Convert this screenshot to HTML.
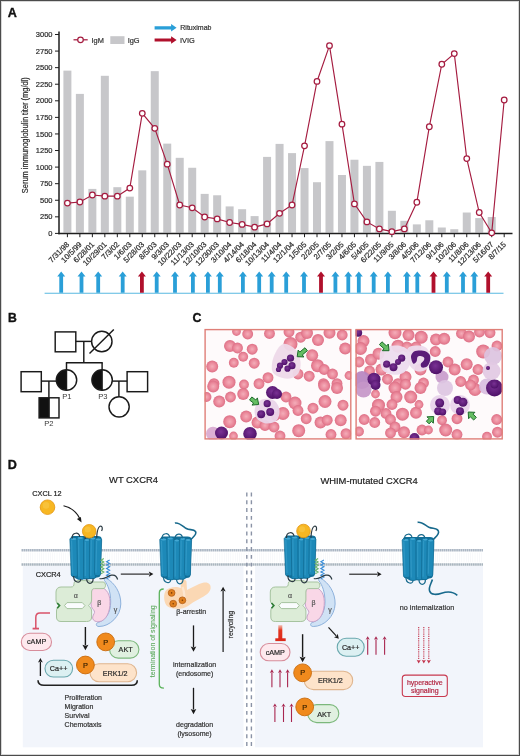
<!DOCTYPE html>
<html><head><meta charset="utf-8"><title>Figure</title>
<style>
html,body{margin:0;padding:0;background:#fff;}
body{width:520px;height:756px;overflow:hidden;position:relative;}
svg{position:absolute;left:0;top:0;display:block;}
svg text{font-family:"Liberation Sans", Arial, Helvetica, sans-serif;}
</style></head>
<body>
<svg width="520" height="756" viewBox="0 0 520 756">
<rect x="0" y="0" width="520" height="756" fill="#fff"/>
<text x="7.8" y="16.9" font-size="12.6" font-weight="bold" fill="#111" stroke="#111" stroke-width="0.35">A</text>
<rect x="63.40" y="70.63" width="8" height="161.97" fill="#c7c7ca"/>
<rect x="75.88" y="93.90" width="8" height="138.70" fill="#c7c7ca"/>
<rect x="88.36" y="188.91" width="8" height="43.69" fill="#c7c7ca"/>
<rect x="100.84" y="75.80" width="8" height="156.80" fill="#c7c7ca"/>
<rect x="113.32" y="187.19" width="8" height="45.41" fill="#c7c7ca"/>
<rect x="125.80" y="196.67" width="8" height="35.93" fill="#c7c7ca"/>
<rect x="138.28" y="170.35" width="8" height="62.25" fill="#c7c7ca"/>
<rect x="150.76" y="71.16" width="8" height="161.44" fill="#c7c7ca"/>
<rect x="163.24" y="143.63" width="8" height="88.97" fill="#c7c7ca"/>
<rect x="175.72" y="157.82" width="8" height="74.78" fill="#c7c7ca"/>
<rect x="188.20" y="167.76" width="8" height="64.84" fill="#c7c7ca"/>
<rect x="200.68" y="193.89" width="8" height="38.71" fill="#c7c7ca"/>
<rect x="213.16" y="195.28" width="8" height="37.32" fill="#c7c7ca"/>
<rect x="225.64" y="206.42" width="8" height="26.18" fill="#c7c7ca"/>
<rect x="238.12" y="209.20" width="8" height="23.40" fill="#c7c7ca"/>
<rect x="250.60" y="216.10" width="8" height="16.50" fill="#c7c7ca"/>
<rect x="263.08" y="156.89" width="8" height="75.71" fill="#c7c7ca"/>
<rect x="275.56" y="143.90" width="8" height="88.70" fill="#c7c7ca"/>
<rect x="288.04" y="153.11" width="8" height="79.49" fill="#c7c7ca"/>
<rect x="300.52" y="168.09" width="8" height="64.51" fill="#c7c7ca"/>
<rect x="313.00" y="182.22" width="8" height="50.38" fill="#c7c7ca"/>
<rect x="325.48" y="141.11" width="8" height="91.49" fill="#c7c7ca"/>
<rect x="337.96" y="174.99" width="8" height="57.61" fill="#c7c7ca"/>
<rect x="350.44" y="159.74" width="8" height="72.86" fill="#c7c7ca"/>
<rect x="362.92" y="165.84" width="8" height="66.76" fill="#c7c7ca"/>
<rect x="375.40" y="161.93" width="8" height="70.67" fill="#c7c7ca"/>
<rect x="387.88" y="210.79" width="8" height="21.81" fill="#c7c7ca"/>
<rect x="400.36" y="220.80" width="8" height="11.80" fill="#c7c7ca"/>
<rect x="412.84" y="224.38" width="8" height="8.22" fill="#c7c7ca"/>
<rect x="425.32" y="220.27" width="8" height="12.33" fill="#c7c7ca"/>
<rect x="437.80" y="227.50" width="8" height="5.10" fill="#c7c7ca"/>
<rect x="450.28" y="229.22" width="8" height="3.38" fill="#c7c7ca"/>
<rect x="462.76" y="212.52" width="8" height="20.08" fill="#c7c7ca"/>
<rect x="475.24" y="218.08" width="8" height="14.52" fill="#c7c7ca"/>
<rect x="487.72" y="217.02" width="8" height="15.58" fill="#c7c7ca"/>
<line x1="59.0" y1="31.5" x2="59.0" y2="234.15" stroke="#1e1e1e" stroke-width="1.5"/>
<line x1="58.25" y1="233.4" x2="512.5" y2="233.4" stroke="#1e1e1e" stroke-width="1.5"/>
<line x1="55.0" y1="233.40" x2="59.0" y2="233.40" stroke="#1e1e1e" stroke-width="1"/>
<text x="52.5" y="236.00" text-anchor="end" font-size="7.5" fill="#2a2a2a" stroke="#2a2a2a" stroke-width="0.2">0</text>
<line x1="55.0" y1="216.83" x2="59.0" y2="216.83" stroke="#1e1e1e" stroke-width="1"/>
<text x="52.5" y="219.43" text-anchor="end" font-size="7.5" fill="#2a2a2a" stroke="#2a2a2a" stroke-width="0.2">250</text>
<line x1="55.0" y1="200.25" x2="59.0" y2="200.25" stroke="#1e1e1e" stroke-width="1"/>
<text x="52.5" y="202.85" text-anchor="end" font-size="7.5" fill="#2a2a2a" stroke="#2a2a2a" stroke-width="0.2">500</text>
<line x1="55.0" y1="183.68" x2="59.0" y2="183.68" stroke="#1e1e1e" stroke-width="1"/>
<text x="52.5" y="186.28" text-anchor="end" font-size="7.5" fill="#2a2a2a" stroke="#2a2a2a" stroke-width="0.2">750</text>
<line x1="55.0" y1="167.10" x2="59.0" y2="167.10" stroke="#1e1e1e" stroke-width="1"/>
<text x="52.5" y="169.70" text-anchor="end" font-size="7.5" fill="#2a2a2a" stroke="#2a2a2a" stroke-width="0.2">1000</text>
<line x1="55.0" y1="150.53" x2="59.0" y2="150.53" stroke="#1e1e1e" stroke-width="1"/>
<text x="52.5" y="153.12" text-anchor="end" font-size="7.5" fill="#2a2a2a" stroke="#2a2a2a" stroke-width="0.2">1250</text>
<line x1="55.0" y1="133.95" x2="59.0" y2="133.95" stroke="#1e1e1e" stroke-width="1"/>
<text x="52.5" y="136.55" text-anchor="end" font-size="7.5" fill="#2a2a2a" stroke="#2a2a2a" stroke-width="0.2">1500</text>
<line x1="55.0" y1="117.38" x2="59.0" y2="117.38" stroke="#1e1e1e" stroke-width="1"/>
<text x="52.5" y="119.98" text-anchor="end" font-size="7.5" fill="#2a2a2a" stroke="#2a2a2a" stroke-width="0.2">1750</text>
<line x1="55.0" y1="100.80" x2="59.0" y2="100.80" stroke="#1e1e1e" stroke-width="1"/>
<text x="52.5" y="103.40" text-anchor="end" font-size="7.5" fill="#2a2a2a" stroke="#2a2a2a" stroke-width="0.2">2000</text>
<line x1="55.0" y1="84.23" x2="59.0" y2="84.23" stroke="#1e1e1e" stroke-width="1"/>
<text x="52.5" y="86.83" text-anchor="end" font-size="7.5" fill="#2a2a2a" stroke="#2a2a2a" stroke-width="0.2">2250</text>
<line x1="55.0" y1="67.65" x2="59.0" y2="67.65" stroke="#1e1e1e" stroke-width="1"/>
<text x="52.5" y="70.25" text-anchor="end" font-size="7.5" fill="#2a2a2a" stroke="#2a2a2a" stroke-width="0.2">2500</text>
<line x1="55.0" y1="51.08" x2="59.0" y2="51.08" stroke="#1e1e1e" stroke-width="1"/>
<text x="52.5" y="53.68" text-anchor="end" font-size="7.5" fill="#2a2a2a" stroke="#2a2a2a" stroke-width="0.2">2750</text>
<line x1="55.0" y1="34.50" x2="59.0" y2="34.50" stroke="#1e1e1e" stroke-width="1"/>
<text x="52.5" y="37.10" text-anchor="end" font-size="7.5" fill="#2a2a2a" stroke="#2a2a2a" stroke-width="0.2">3000</text>
<line x1="67.40" y1="233.4" x2="67.40" y2="237.20000000000002" stroke="#1e1e1e" stroke-width="1"/>
<text transform="translate(69.80,245.00) rotate(-45)" text-anchor="end" font-size="7.7" fill="#2a2a2a" stroke="#2a2a2a" stroke-width="0.2">7/31/98</text>
<line x1="79.88" y1="233.4" x2="79.88" y2="237.20000000000002" stroke="#1e1e1e" stroke-width="1"/>
<text transform="translate(82.28,245.00) rotate(-45)" text-anchor="end" font-size="7.7" fill="#2a2a2a" stroke="#2a2a2a" stroke-width="0.2">10/5/99</text>
<line x1="92.36" y1="233.4" x2="92.36" y2="237.20000000000002" stroke="#1e1e1e" stroke-width="1"/>
<text transform="translate(94.76,245.00) rotate(-45)" text-anchor="end" font-size="7.7" fill="#2a2a2a" stroke="#2a2a2a" stroke-width="0.2">6/28/01</text>
<line x1="104.84" y1="233.4" x2="104.84" y2="237.20000000000002" stroke="#1e1e1e" stroke-width="1"/>
<text transform="translate(107.24,245.00) rotate(-45)" text-anchor="end" font-size="7.7" fill="#2a2a2a" stroke="#2a2a2a" stroke-width="0.2">10/29/01</text>
<line x1="117.32" y1="233.4" x2="117.32" y2="237.20000000000002" stroke="#1e1e1e" stroke-width="1"/>
<text transform="translate(119.72,245.00) rotate(-45)" text-anchor="end" font-size="7.7" fill="#2a2a2a" stroke="#2a2a2a" stroke-width="0.2">7/3/02</text>
<line x1="129.80" y1="233.4" x2="129.80" y2="237.20000000000002" stroke="#1e1e1e" stroke-width="1"/>
<text transform="translate(132.20,245.00) rotate(-45)" text-anchor="end" font-size="7.7" fill="#2a2a2a" stroke="#2a2a2a" stroke-width="0.2">1/6/03</text>
<line x1="142.28" y1="233.4" x2="142.28" y2="237.20000000000002" stroke="#1e1e1e" stroke-width="1"/>
<text transform="translate(144.68,245.00) rotate(-45)" text-anchor="end" font-size="7.7" fill="#2a2a2a" stroke="#2a2a2a" stroke-width="0.2">5/28/03</text>
<line x1="154.76" y1="233.4" x2="154.76" y2="237.20000000000002" stroke="#1e1e1e" stroke-width="1"/>
<text transform="translate(157.16,245.00) rotate(-45)" text-anchor="end" font-size="7.7" fill="#2a2a2a" stroke="#2a2a2a" stroke-width="0.2">8/5/03</text>
<line x1="167.24" y1="233.4" x2="167.24" y2="237.20000000000002" stroke="#1e1e1e" stroke-width="1"/>
<text transform="translate(169.64,245.00) rotate(-45)" text-anchor="end" font-size="7.7" fill="#2a2a2a" stroke="#2a2a2a" stroke-width="0.2">9/3/03</text>
<line x1="179.72" y1="233.4" x2="179.72" y2="237.20000000000002" stroke="#1e1e1e" stroke-width="1"/>
<text transform="translate(182.12,245.00) rotate(-45)" text-anchor="end" font-size="7.7" fill="#2a2a2a" stroke="#2a2a2a" stroke-width="0.2">10/22/03</text>
<line x1="192.20" y1="233.4" x2="192.20" y2="237.20000000000002" stroke="#1e1e1e" stroke-width="1"/>
<text transform="translate(194.60,245.00) rotate(-45)" text-anchor="end" font-size="7.7" fill="#2a2a2a" stroke="#2a2a2a" stroke-width="0.2">11/13/03</text>
<line x1="204.68" y1="233.4" x2="204.68" y2="237.20000000000002" stroke="#1e1e1e" stroke-width="1"/>
<text transform="translate(207.08,245.00) rotate(-45)" text-anchor="end" font-size="7.7" fill="#2a2a2a" stroke="#2a2a2a" stroke-width="0.2">12/10/03</text>
<line x1="217.16" y1="233.4" x2="217.16" y2="237.20000000000002" stroke="#1e1e1e" stroke-width="1"/>
<text transform="translate(219.56,245.00) rotate(-45)" text-anchor="end" font-size="7.7" fill="#2a2a2a" stroke="#2a2a2a" stroke-width="0.2">12/30/03</text>
<line x1="229.64" y1="233.4" x2="229.64" y2="237.20000000000002" stroke="#1e1e1e" stroke-width="1"/>
<text transform="translate(232.04,245.00) rotate(-45)" text-anchor="end" font-size="7.7" fill="#2a2a2a" stroke="#2a2a2a" stroke-width="0.2">3/10/04</text>
<line x1="242.12" y1="233.4" x2="242.12" y2="237.20000000000002" stroke="#1e1e1e" stroke-width="1"/>
<text transform="translate(244.52,245.00) rotate(-45)" text-anchor="end" font-size="7.7" fill="#2a2a2a" stroke="#2a2a2a" stroke-width="0.2">4/14/04</text>
<line x1="254.60" y1="233.4" x2="254.60" y2="237.20000000000002" stroke="#1e1e1e" stroke-width="1"/>
<text transform="translate(257.00,245.00) rotate(-45)" text-anchor="end" font-size="7.7" fill="#2a2a2a" stroke="#2a2a2a" stroke-width="0.2">6/18/04</text>
<line x1="267.08" y1="233.4" x2="267.08" y2="237.20000000000002" stroke="#1e1e1e" stroke-width="1"/>
<text transform="translate(269.48,245.00) rotate(-45)" text-anchor="end" font-size="7.7" fill="#2a2a2a" stroke="#2a2a2a" stroke-width="0.2">10/13/04</text>
<line x1="279.56" y1="233.4" x2="279.56" y2="237.20000000000002" stroke="#1e1e1e" stroke-width="1"/>
<text transform="translate(281.96,245.00) rotate(-45)" text-anchor="end" font-size="7.7" fill="#2a2a2a" stroke="#2a2a2a" stroke-width="0.2">11/4/04</text>
<line x1="292.04" y1="233.4" x2="292.04" y2="237.20000000000002" stroke="#1e1e1e" stroke-width="1"/>
<text transform="translate(294.44,245.00) rotate(-45)" text-anchor="end" font-size="7.7" fill="#2a2a2a" stroke="#2a2a2a" stroke-width="0.2">12/1/04</text>
<line x1="304.52" y1="233.4" x2="304.52" y2="237.20000000000002" stroke="#1e1e1e" stroke-width="1"/>
<text transform="translate(306.92,245.00) rotate(-45)" text-anchor="end" font-size="7.7" fill="#2a2a2a" stroke="#2a2a2a" stroke-width="0.2">1/5/05</text>
<line x1="317.00" y1="233.4" x2="317.00" y2="237.20000000000002" stroke="#1e1e1e" stroke-width="1"/>
<text transform="translate(319.40,245.00) rotate(-45)" text-anchor="end" font-size="7.7" fill="#2a2a2a" stroke="#2a2a2a" stroke-width="0.2">2/2/05</text>
<line x1="329.48" y1="233.4" x2="329.48" y2="237.20000000000002" stroke="#1e1e1e" stroke-width="1"/>
<text transform="translate(331.88,245.00) rotate(-45)" text-anchor="end" font-size="7.7" fill="#2a2a2a" stroke="#2a2a2a" stroke-width="0.2">2/7/05</text>
<line x1="341.96" y1="233.4" x2="341.96" y2="237.20000000000002" stroke="#1e1e1e" stroke-width="1"/>
<text transform="translate(344.36,245.00) rotate(-45)" text-anchor="end" font-size="7.7" fill="#2a2a2a" stroke="#2a2a2a" stroke-width="0.2">3/2/05</text>
<line x1="354.44" y1="233.4" x2="354.44" y2="237.20000000000002" stroke="#1e1e1e" stroke-width="1"/>
<text transform="translate(356.84,245.00) rotate(-45)" text-anchor="end" font-size="7.7" fill="#2a2a2a" stroke="#2a2a2a" stroke-width="0.2">4/6/05</text>
<line x1="366.92" y1="233.4" x2="366.92" y2="237.20000000000002" stroke="#1e1e1e" stroke-width="1"/>
<text transform="translate(369.32,245.00) rotate(-45)" text-anchor="end" font-size="7.7" fill="#2a2a2a" stroke="#2a2a2a" stroke-width="0.2">5/4/05</text>
<line x1="379.40" y1="233.4" x2="379.40" y2="237.20000000000002" stroke="#1e1e1e" stroke-width="1"/>
<text transform="translate(381.80,245.00) rotate(-45)" text-anchor="end" font-size="7.7" fill="#2a2a2a" stroke="#2a2a2a" stroke-width="0.2">6/22/05</text>
<line x1="391.88" y1="233.4" x2="391.88" y2="237.20000000000002" stroke="#1e1e1e" stroke-width="1"/>
<text transform="translate(394.28,245.00) rotate(-45)" text-anchor="end" font-size="7.7" fill="#2a2a2a" stroke="#2a2a2a" stroke-width="0.2">11/9/05</text>
<line x1="404.36" y1="233.4" x2="404.36" y2="237.20000000000002" stroke="#1e1e1e" stroke-width="1"/>
<text transform="translate(406.76,245.00) rotate(-45)" text-anchor="end" font-size="7.7" fill="#2a2a2a" stroke="#2a2a2a" stroke-width="0.2">3/8/06</text>
<line x1="416.84" y1="233.4" x2="416.84" y2="237.20000000000002" stroke="#1e1e1e" stroke-width="1"/>
<text transform="translate(419.24,245.00) rotate(-45)" text-anchor="end" font-size="7.7" fill="#2a2a2a" stroke="#2a2a2a" stroke-width="0.2">4/5/06</text>
<line x1="429.32" y1="233.4" x2="429.32" y2="237.20000000000002" stroke="#1e1e1e" stroke-width="1"/>
<text transform="translate(431.72,245.00) rotate(-45)" text-anchor="end" font-size="7.7" fill="#2a2a2a" stroke="#2a2a2a" stroke-width="0.2">7/12/06</text>
<line x1="441.80" y1="233.4" x2="441.80" y2="237.20000000000002" stroke="#1e1e1e" stroke-width="1"/>
<text transform="translate(444.20,245.00) rotate(-45)" text-anchor="end" font-size="7.7" fill="#2a2a2a" stroke="#2a2a2a" stroke-width="0.2">9/1/06</text>
<line x1="454.28" y1="233.4" x2="454.28" y2="237.20000000000002" stroke="#1e1e1e" stroke-width="1"/>
<text transform="translate(456.68,245.00) rotate(-45)" text-anchor="end" font-size="7.7" fill="#2a2a2a" stroke="#2a2a2a" stroke-width="0.2">10/2/06</text>
<line x1="466.76" y1="233.4" x2="466.76" y2="237.20000000000002" stroke="#1e1e1e" stroke-width="1"/>
<text transform="translate(469.16,245.00) rotate(-45)" text-anchor="end" font-size="7.7" fill="#2a2a2a" stroke="#2a2a2a" stroke-width="0.2">11/8/06</text>
<line x1="479.24" y1="233.4" x2="479.24" y2="237.20000000000002" stroke="#1e1e1e" stroke-width="1"/>
<text transform="translate(481.64,245.00) rotate(-45)" text-anchor="end" font-size="7.7" fill="#2a2a2a" stroke="#2a2a2a" stroke-width="0.2">12/13/06</text>
<line x1="491.72" y1="233.4" x2="491.72" y2="237.20000000000002" stroke="#1e1e1e" stroke-width="1"/>
<text transform="translate(494.12,245.00) rotate(-45)" text-anchor="end" font-size="7.7" fill="#2a2a2a" stroke="#2a2a2a" stroke-width="0.2">5/16/07</text>
<line x1="504.20" y1="233.4" x2="504.20" y2="237.20000000000002" stroke="#1e1e1e" stroke-width="1"/>
<text transform="translate(506.60,245.00) rotate(-45)" text-anchor="end" font-size="7.7" fill="#2a2a2a" stroke="#2a2a2a" stroke-width="0.2">8/7/15</text>
<polyline points="67.40,203.10 79.88,202.04 92.36,195.01 104.84,196.14 117.32,196.14 129.80,188.05 142.28,113.33 154.76,128.31 167.24,164.18 179.72,205.02 192.20,207.81 204.68,217.02 217.16,218.88 229.64,222.53 242.12,224.38 254.60,227.17 267.08,223.92 279.56,213.31 292.04,205.02 304.52,145.82 317.00,81.44 329.48,45.64 341.96,124.20 354.44,203.90 366.92,221.93 379.40,228.89 391.88,231.68 404.36,228.89 416.84,202.24 429.32,126.72 441.80,64.20 454.28,53.59 466.76,158.61 479.24,212.52 491.72,232.80 504.20,100.00" fill="none" stroke="#a51c40" stroke-width="1.15"/>
<circle cx="67.40" cy="203.10" r="2.8" fill="#fff" stroke="#a51c40" stroke-width="1.25"/>
<circle cx="79.88" cy="202.04" r="2.8" fill="#fff" stroke="#a51c40" stroke-width="1.25"/>
<circle cx="92.36" cy="195.01" r="2.8" fill="#fff" stroke="#a51c40" stroke-width="1.25"/>
<circle cx="104.84" cy="196.14" r="2.8" fill="#fff" stroke="#a51c40" stroke-width="1.25"/>
<circle cx="117.32" cy="196.14" r="2.8" fill="#fff" stroke="#a51c40" stroke-width="1.25"/>
<circle cx="129.80" cy="188.05" r="2.8" fill="#fff" stroke="#a51c40" stroke-width="1.25"/>
<circle cx="142.28" cy="113.33" r="2.8" fill="#fff" stroke="#a51c40" stroke-width="1.25"/>
<circle cx="154.76" cy="128.31" r="2.8" fill="#fff" stroke="#a51c40" stroke-width="1.25"/>
<circle cx="167.24" cy="164.18" r="2.8" fill="#fff" stroke="#a51c40" stroke-width="1.25"/>
<circle cx="179.72" cy="205.02" r="2.8" fill="#fff" stroke="#a51c40" stroke-width="1.25"/>
<circle cx="192.20" cy="207.81" r="2.8" fill="#fff" stroke="#a51c40" stroke-width="1.25"/>
<circle cx="204.68" cy="217.02" r="2.8" fill="#fff" stroke="#a51c40" stroke-width="1.25"/>
<circle cx="217.16" cy="218.88" r="2.8" fill="#fff" stroke="#a51c40" stroke-width="1.25"/>
<circle cx="229.64" cy="222.53" r="2.8" fill="#fff" stroke="#a51c40" stroke-width="1.25"/>
<circle cx="242.12" cy="224.38" r="2.8" fill="#fff" stroke="#a51c40" stroke-width="1.25"/>
<circle cx="254.60" cy="227.17" r="2.8" fill="#fff" stroke="#a51c40" stroke-width="1.25"/>
<circle cx="267.08" cy="223.92" r="2.8" fill="#fff" stroke="#a51c40" stroke-width="1.25"/>
<circle cx="279.56" cy="213.31" r="2.8" fill="#fff" stroke="#a51c40" stroke-width="1.25"/>
<circle cx="292.04" cy="205.02" r="2.8" fill="#fff" stroke="#a51c40" stroke-width="1.25"/>
<circle cx="304.52" cy="145.82" r="2.8" fill="#fff" stroke="#a51c40" stroke-width="1.25"/>
<circle cx="317.00" cy="81.44" r="2.8" fill="#fff" stroke="#a51c40" stroke-width="1.25"/>
<circle cx="329.48" cy="45.64" r="2.8" fill="#fff" stroke="#a51c40" stroke-width="1.25"/>
<circle cx="341.96" cy="124.20" r="2.8" fill="#fff" stroke="#a51c40" stroke-width="1.25"/>
<circle cx="354.44" cy="203.90" r="2.8" fill="#fff" stroke="#a51c40" stroke-width="1.25"/>
<circle cx="366.92" cy="221.93" r="2.8" fill="#fff" stroke="#a51c40" stroke-width="1.25"/>
<circle cx="379.40" cy="228.89" r="2.8" fill="#fff" stroke="#a51c40" stroke-width="1.25"/>
<circle cx="391.88" cy="231.68" r="2.8" fill="#fff" stroke="#a51c40" stroke-width="1.25"/>
<circle cx="404.36" cy="228.89" r="2.8" fill="#fff" stroke="#a51c40" stroke-width="1.25"/>
<circle cx="416.84" cy="202.24" r="2.8" fill="#fff" stroke="#a51c40" stroke-width="1.25"/>
<circle cx="429.32" cy="126.72" r="2.8" fill="#fff" stroke="#a51c40" stroke-width="1.25"/>
<circle cx="441.80" cy="64.20" r="2.8" fill="#fff" stroke="#a51c40" stroke-width="1.25"/>
<circle cx="454.28" cy="53.59" r="2.8" fill="#fff" stroke="#a51c40" stroke-width="1.25"/>
<circle cx="466.76" cy="158.61" r="2.8" fill="#fff" stroke="#a51c40" stroke-width="1.25"/>
<circle cx="479.24" cy="212.52" r="2.8" fill="#fff" stroke="#a51c40" stroke-width="1.25"/>
<circle cx="491.72" cy="232.80" r="2.8" fill="#fff" stroke="#a51c40" stroke-width="1.25"/>
<circle cx="504.20" cy="100.00" r="2.8" fill="#fff" stroke="#a51c40" stroke-width="1.25"/>
<text transform="translate(28.0,135.2) rotate(-90)" text-anchor="middle" font-size="8.4" fill="#2a2a2a" textLength="116" lengthAdjust="spacingAndGlyphs" stroke="#2a2a2a" stroke-width="0.2">Serum immunoglobulin titer (mg/dl)</text>
<line x1="73.5" y1="39.8" x2="87.7" y2="39.8" stroke="#a51c40" stroke-width="1.25"/>
<circle cx="80.5" cy="39.8" r="2.8" fill="#fff" stroke="#a51c40" stroke-width="1.25"/>
<text x="91.5" y="42.6" font-size="7.4" fill="#333" stroke="#333" stroke-width="0.2">IgM</text>
<rect x="110.3" y="36.2" width="14.2" height="7.8" fill="#c7c7ca"/>
<text x="127.7" y="42.6" font-size="7.4" fill="#333" stroke="#333" stroke-width="0.2">IgG</text>
<path d="M154.6,26.2 L171.1,26.2 L171.1,24.1 L176.6,27.8 L171.1,31.5 L171.1,29.400000000000002 L154.6,29.400000000000002 Z" fill="#2a9fd8"/>
<text x="180.3" y="30.1" font-size="7.0" fill="#333" stroke="#333" stroke-width="0.2">Rituximab</text>
<path d="M154.6,38.4 L171.1,38.4 L171.1,36.3 L176.6,40.0 L171.1,43.7 L171.1,41.6 L154.6,41.6 Z" fill="#b0102c"/>
<text x="180" y="42.6" font-size="7.4" fill="#333" stroke="#333" stroke-width="0.2">IVIG</text>
<line x1="44.6" y1="293.3" x2="503.5" y2="293.3" stroke="#58b8e0" stroke-width="1.1"/>
<path d="M59.300000000000004,292.8 L59.300000000000004,276.4 L57.2,276.4 L61.2,271.4 L65.2,276.4 L63.1,276.4 L63.1,292.8 Z" fill="#2a9fd8"/>
<path d="M79.6,292.8 L79.6,276.4 L77.5,276.4 L81.5,271.4 L85.5,276.4 L83.4,276.4 L83.4,292.8 Z" fill="#2a9fd8"/>
<path d="M96.3,292.8 L96.3,276.4 L94.2,276.4 L98.2,271.4 L102.2,276.4 L100.10000000000001,276.4 L100.10000000000001,292.8 Z" fill="#2a9fd8"/>
<path d="M120.8,292.8 L120.8,276.4 L118.7,276.4 L122.7,271.4 L126.7,276.4 L124.60000000000001,276.4 L124.60000000000001,292.8 Z" fill="#2a9fd8"/>
<path d="M140.0,292.8 L140.0,276.4 L137.9,276.4 L141.9,271.4 L145.9,276.4 L143.8,276.4 L143.8,292.8 Z" fill="#b0102c"/>
<path d="M154.79999999999998,292.8 L154.79999999999998,276.4 L152.7,276.4 L156.7,271.4 L160.7,276.4 L158.6,276.4 L158.6,292.8 Z" fill="#2a9fd8"/>
<path d="M173.1,292.8 L173.1,276.4 L171.0,276.4 L175.0,271.4 L179.0,276.4 L176.9,276.4 L176.9,292.8 Z" fill="#2a9fd8"/>
<path d="M191.0,292.8 L191.0,276.4 L188.9,276.4 L192.9,271.4 L196.9,276.4 L194.8,276.4 L194.8,292.8 Z" fill="#2a9fd8"/>
<path d="M206.0,292.8 L206.0,276.4 L203.9,276.4 L207.9,271.4 L211.9,276.4 L209.8,276.4 L209.8,292.8 Z" fill="#2a9fd8"/>
<path d="M217.9,292.8 L217.9,276.4 L215.8,276.4 L219.8,271.4 L223.8,276.4 L221.70000000000002,276.4 L221.70000000000002,292.8 Z" fill="#2a9fd8"/>
<path d="M241.0,292.8 L241.0,276.4 L238.9,276.4 L242.9,271.4 L246.9,276.4 L244.8,276.4 L244.8,292.8 Z" fill="#2a9fd8"/>
<path d="M257.3,292.8 L257.3,276.4 L255.2,276.4 L259.2,271.4 L263.2,276.4 L261.09999999999997,276.4 L261.09999999999997,292.8 Z" fill="#2a9fd8"/>
<path d="M269.8,292.8 L269.8,276.4 L267.7,276.4 L271.7,271.4 L275.7,276.4 L273.59999999999997,276.4 L273.59999999999997,292.8 Z" fill="#2a9fd8"/>
<path d="M284.3,292.8 L284.3,276.4 L282.2,276.4 L286.2,271.4 L290.2,276.4 L288.09999999999997,276.4 L288.09999999999997,292.8 Z" fill="#2a9fd8"/>
<path d="M302.1,292.8 L302.1,276.4 L300.0,276.4 L304.0,271.4 L308.0,276.4 L305.9,276.4 L305.9,292.8 Z" fill="#2a9fd8"/>
<path d="M319.1,292.8 L319.1,276.4 L317.0,276.4 L321.0,271.4 L325.0,276.4 L322.9,276.4 L322.9,292.8 Z" fill="#b0102c"/>
<path d="M333.5,292.8 L333.5,276.4 L331.4,276.4 L335.4,271.4 L339.4,276.4 L337.29999999999995,276.4 L337.29999999999995,292.8 Z" fill="#2a9fd8"/>
<path d="M346.40000000000003,292.8 L346.40000000000003,276.4 L344.3,276.4 L348.3,271.4 L352.3,276.4 L350.2,276.4 L350.2,292.8 Z" fill="#2a9fd8"/>
<path d="M356.90000000000003,292.8 L356.90000000000003,276.4 L354.8,276.4 L358.8,271.4 L362.8,276.4 L360.7,276.4 L360.7,292.8 Z" fill="#2a9fd8"/>
<path d="M371.8,292.8 L371.8,276.4 L369.7,276.4 L373.7,271.4 L377.7,276.4 L375.59999999999997,276.4 L375.59999999999997,292.8 Z" fill="#2a9fd8"/>
<path d="M386.0,292.8 L386.0,276.4 L383.9,276.4 L387.9,271.4 L391.9,276.4 L389.79999999999995,276.4 L389.79999999999995,292.8 Z" fill="#2a9fd8"/>
<path d="M405.0,292.8 L405.0,276.4 L402.9,276.4 L406.9,271.4 L410.9,276.4 L408.79999999999995,276.4 L408.79999999999995,292.8 Z" fill="#2a9fd8"/>
<path d="M415.40000000000003,292.8 L415.40000000000003,276.4 L413.3,276.4 L417.3,271.4 L421.3,276.4 L419.2,276.4 L419.2,292.8 Z" fill="#2a9fd8"/>
<path d="M431.6,292.8 L431.6,276.4 L429.5,276.4 L433.5,271.4 L437.5,276.4 L435.4,276.4 L435.4,292.8 Z" fill="#b0102c"/>
<path d="M444.90000000000003,292.8 L444.90000000000003,276.4 L442.8,276.4 L446.8,271.4 L450.8,276.4 L448.7,276.4 L448.7,292.8 Z" fill="#2a9fd8"/>
<path d="M461.1,292.8 L461.1,276.4 L459.0,276.4 L463.0,271.4 L467.0,276.4 L464.9,276.4 L464.9,292.8 Z" fill="#2a9fd8"/>
<path d="M472.40000000000003,292.8 L472.40000000000003,276.4 L470.3,276.4 L474.3,271.4 L478.3,276.4 L476.2,276.4 L476.2,292.8 Z" fill="#2a9fd8"/>
<path d="M486.3,292.8 L486.3,276.4 L484.2,276.4 L488.2,271.4 L492.2,276.4 L490.09999999999997,276.4 L490.09999999999997,292.8 Z" fill="#b0102c"/>
<g id="panelB">
<text x="8" y="322.3" font-size="12.2" font-weight="bold" fill="#111" stroke="#111" stroke-width="0.35">B</text>
<g fill="none" stroke="#1a1a1a" stroke-width="1.45">
<rect x="55.2" y="331.9" width="20.6" height="19.9" fill="#fff"/>
<line x1="75.9" y1="341.4" x2="91.4" y2="341.4"/>
<circle cx="101.8" cy="341.5" r="10.2" fill="#fff"/>
<line x1="89.5" y1="353.5" x2="113.8" y2="329.5"/>
<line x1="83.8" y1="341.4" x2="83.8" y2="362.8"/>
<line x1="65.85" y1="362.8" x2="102.75" y2="362.8"/>
<line x1="66.5" y1="362.8" x2="66.5" y2="369.8"/>
<line x1="102.1" y1="362.8" x2="102.1" y2="369.8"/>
<rect x="21.1" y="371.7" width="20.2" height="20" fill="#fff"/>
<line x1="41.3" y1="381.1" x2="56.3" y2="381.1"/>
<line x1="48.9" y1="381.1" x2="48.9" y2="397.6"/>
<rect x="127.1" y="371.7" width="20.5" height="20" fill="#fff"/>
<line x1="112.3" y1="381.1" x2="127.1" y2="381.1"/>
<line x1="118.9" y1="381.1" x2="118.9" y2="396.6"/>
<circle cx="119.1" cy="406.8" r="10.1" fill="#fff"/>
</g>
<path d="M66.5,369.8 A10.2,10.2 0 0 0 66.5,390.2 Z" fill="#111"/>
<circle cx="66.5" cy="380" r="10.2" fill="none" stroke="#1a1a1a" stroke-width="1.45"/>
<line x1="66.5" y1="369.8" x2="66.5" y2="390.2" stroke="#1a1a1a" stroke-width="1.45"/>
<path d="M102.1,369.8 A10.2,10.2 0 0 0 102.1,390.2 Z" fill="#111"/>
<circle cx="102.1" cy="380" r="10.2" fill="none" stroke="#1a1a1a" stroke-width="1.45"/>
<line x1="102.1" y1="369.8" x2="102.1" y2="390.2" stroke="#1a1a1a" stroke-width="1.45"/>
<rect x="39.1" y="397.8" width="10" height="20.1" fill="#111"/>
<rect x="39.1" y="397.8" width="19.9" height="20.1" fill="none" stroke="#1a1a1a" stroke-width="1.45"/>
<line x1="49.1" y1="397.8" x2="49.1" y2="417.9" stroke="#1a1a1a" stroke-width="1.45"/>
<g font-size="7.6" fill="#3a3a3a" text-anchor="middle">
<text x="66.8" y="398.6">P1</text>
<text x="102.8" y="398.6">P3</text>
<text x="48.8" y="425.9">P2</text>
</g>
</g>

<g id="panelC">
<text x="192.4" y="322.3" font-size="12.4" font-weight="bold" fill="#111" stroke="#111" stroke-width="0.35">C</text>
<defs>
<radialGradient id="rbc" cx="50%" cy="50%" r="50%">
<stop offset="0" stop-color="#f4adb9"/><stop offset="0.6" stop-color="#eb8a9c"/><stop offset="1" stop-color="#dd7086"/>
</radialGradient>
<radialGradient id="nuc" cx="45%" cy="40%" r="60%">
<stop offset="0" stop-color="#7a3294"/><stop offset="1" stop-color="#4e1168"/>
</radialGradient>
<clipPath id="clipL"><rect x="204.6" y="329.1" width="146.7" height="110.3"/></clipPath>
<clipPath id="clipR"><rect x="355.6" y="329.1" width="147.1" height="110.3"/></clipPath>
</defs>
<g clip-path="url(#clipL)">
<rect x="204.6" y="329.1" width="146.7" height="110.3" fill="#fefafb"/>
<circle cx="230" cy="346" r="5.98" fill="url(#rbc)"/>
<circle cx="237.5" cy="348" r="5.45" fill="url(#rbc)"/>
<circle cx="252.2" cy="349.2" r="5.45" fill="url(#rbc)"/>
<circle cx="243.2" cy="356.7" r="4.93" fill="url(#rbc)"/>
<circle cx="233.8" cy="362.7" r="4.93" fill="url(#rbc)"/>
<circle cx="254.2" cy="363.2" r="5.45" fill="url(#rbc)"/>
<circle cx="212.2" cy="366.5" r="5.98" fill="url(#rbc)"/>
<circle cx="247.7" cy="334" r="5.45" fill="url(#rbc)"/>
<circle cx="269.5" cy="333.5" r="5.45" fill="url(#rbc)"/>
<circle cx="236.5" cy="331.5" r="4.40" fill="url(#rbc)"/>
<circle cx="229" cy="382.2" r="6.50" fill="url(#rbc)"/>
<circle cx="214" cy="383.7" r="5.45" fill="url(#rbc)"/>
<circle cx="244" cy="384.5" r="4.93" fill="url(#rbc)"/>
<circle cx="259" cy="383.7" r="5.45" fill="url(#rbc)"/>
<circle cx="268" cy="377.7" r="5.45" fill="url(#rbc)"/>
<circle cx="289" cy="332" r="5.45" fill="url(#rbc)"/>
<circle cx="300.7" cy="337.2" r="5.45" fill="url(#rbc)"/>
<circle cx="307" cy="333" r="5.98" fill="url(#rbc)"/>
<circle cx="318" cy="340" r="5.98" fill="url(#rbc)"/>
<circle cx="329.5" cy="332.8" r="5.98" fill="url(#rbc)"/>
<circle cx="342.2" cy="335" r="5.45" fill="url(#rbc)"/>
<circle cx="290.5" cy="344" r="7.03" fill="url(#rbc)"/>
<circle cx="345.2" cy="348.5" r="5.98" fill="url(#rbc)"/>
<circle cx="312.2" cy="355.2" r="5.98" fill="url(#rbc)"/>
<circle cx="317.5" cy="365.7" r="6.50" fill="url(#rbc)"/>
<circle cx="324.2" cy="369.5" r="5.45" fill="url(#rbc)"/>
<circle cx="332.5" cy="374" r="5.45" fill="url(#rbc)"/>
<circle cx="309.2" cy="376.2" r="5.45" fill="url(#rbc)"/>
<circle cx="349" cy="375.5" r="4.40" fill="url(#rbc)"/>
<circle cx="323.5" cy="383.7" r="5.45" fill="url(#rbc)"/>
<circle cx="337" cy="383.7" r="5.45" fill="url(#rbc)"/>
<circle cx="298" cy="374" r="5.45" fill="url(#rbc)"/>
<circle cx="213.2" cy="386.5" r="5.98" fill="url(#rbc)"/>
<circle cx="243.2" cy="394" r="5.98" fill="url(#rbc)"/>
<circle cx="230.5" cy="397" r="5.45" fill="url(#rbc)"/>
<circle cx="219.2" cy="401.5" r="5.98" fill="url(#rbc)"/>
<circle cx="206.5" cy="397" r="4.93" fill="url(#rbc)"/>
<circle cx="229.7" cy="421.7" r="6.50" fill="url(#rbc)"/>
<circle cx="246.2" cy="416.5" r="5.98" fill="url(#rbc)"/>
<circle cx="257.5" cy="422.5" r="5.98" fill="url(#rbc)"/>
<circle cx="265" cy="425.5" r="5.45" fill="url(#rbc)"/>
<circle cx="274" cy="427" r="5.45" fill="url(#rbc)"/>
<circle cx="233.5" cy="436" r="4.40" fill="url(#rbc)"/>
<circle cx="275.5" cy="416.5" r="4.40" fill="url(#rbc)"/>
<circle cx="324.2" cy="385.7" r="5.98" fill="url(#rbc)"/>
<circle cx="337" cy="388" r="5.98" fill="url(#rbc)"/>
<circle cx="286" cy="397" r="5.45" fill="url(#rbc)"/>
<circle cx="295" cy="403" r="6.50" fill="url(#rbc)"/>
<circle cx="298" cy="410.5" r="5.45" fill="url(#rbc)"/>
<circle cx="325" cy="401.5" r="6.50" fill="url(#rbc)"/>
<circle cx="343" cy="405.2" r="5.45" fill="url(#rbc)"/>
<circle cx="313" cy="408.2" r="5.45" fill="url(#rbc)"/>
<circle cx="283" cy="413.5" r="6.50" fill="url(#rbc)"/>
<circle cx="306.2" cy="418.7" r="5.45" fill="url(#rbc)"/>
<circle cx="320.5" cy="422.5" r="5.98" fill="url(#rbc)"/>
<circle cx="327.2" cy="420.2" r="5.45" fill="url(#rbc)"/>
<circle cx="340.7" cy="420.2" r="5.98" fill="url(#rbc)"/>
<circle cx="298.7" cy="430.7" r="6.50" fill="url(#rbc)"/>
<circle cx="280" cy="436" r="5.45" fill="url(#rbc)"/>
<circle cx="331" cy="434.5" r="5.45" fill="url(#rbc)"/>
<circle cx="346" cy="433.7" r="5.45" fill="url(#rbc)"/>
<path d="M283.00,344.00 C286.67,343.00 293.08,347.00 296.00,350.00 C298.92,353.00 300.08,358.17 300.50,362.00 C300.92,365.83 300.25,370.25 298.50,373.00 C296.75,375.75 293.42,377.92 290.00,378.50 C286.58,379.08 281.00,377.92 278.00,376.50 C275.00,375.08 272.67,373.42 272.00,370.00 C271.33,366.58 272.17,360.33 274.00,356.00 C275.83,351.67 279.33,345.00 283.00,344.00 Z" fill="#eed9e9" opacity="0.95"/>
<path d="M262.00,399.50 C265.17,398.25 271.08,398.75 274.00,400.50 C276.92,402.25 279.08,406.67 279.50,410.00 C279.92,413.33 278.75,418.25 276.50,420.50 C274.25,422.75 269.33,423.92 266.00,423.50 C262.67,423.08 258.33,420.58 256.50,418.00 C254.67,415.42 254.08,411.08 255.00,408.00 C255.92,404.92 258.83,400.75 262.00,399.50 Z" fill="#ead5e9" opacity="0.95"/>
<circle cx="213" cy="433.7" r="7" fill="#d9a8cf" opacity="0.92"/>
<circle cx="290.5" cy="358.2" r="3.6" fill="url(#nuc)"/>
<circle cx="284.5" cy="362" r="3.1" fill="url(#nuc)"/>
<circle cx="292" cy="365.7" r="3.6" fill="url(#nuc)"/>
<circle cx="287.5" cy="368.7" r="3.1" fill="url(#nuc)"/>
<circle cx="280" cy="365.7" r="3.1" fill="url(#nuc)"/>
<circle cx="278.5" cy="369.5" r="2.6" fill="url(#nuc)"/>
<circle cx="267.2" cy="403.7" r="3.6" fill="url(#nuc)"/>
<circle cx="270.2" cy="412" r="4.0" fill="url(#nuc)"/>
<circle cx="261.2" cy="414.2" r="4.0" fill="url(#nuc)"/>
<circle cx="272.5" cy="392.5" r="6.5" fill="url(#nuc)"/>
<circle cx="277" cy="394" r="5" fill="url(#nuc)"/>
<circle cx="221.5" cy="433" r="6.5" fill="url(#nuc)"/>
<circle cx="250" cy="433.7" r="6.8" fill="url(#nuc)"/>
</g>
<g clip-path="url(#clipR)">
<rect x="355.6" y="329.1" width="147.1" height="110.3" fill="#fefafb"/>
<circle cx="363.5" cy="341" r="5.98" fill="url(#rbc)"/>
<circle cx="360.5" cy="348.5" r="6.50" fill="url(#rbc)"/>
<circle cx="359" cy="362" r="5.45" fill="url(#rbc)"/>
<circle cx="371" cy="359.7" r="5.98" fill="url(#rbc)"/>
<circle cx="378.5" cy="353.7" r="5.98" fill="url(#rbc)"/>
<circle cx="395" cy="332.7" r="6.50" fill="url(#rbc)"/>
<circle cx="408.5" cy="335" r="5.98" fill="url(#rbc)"/>
<circle cx="421.2" cy="337.2" r="6.50" fill="url(#rbc)"/>
<circle cx="398" cy="346.2" r="6.50" fill="url(#rbc)"/>
<circle cx="407" cy="347" r="5.45" fill="url(#rbc)"/>
<circle cx="416" cy="347" r="5.45" fill="url(#rbc)"/>
<circle cx="381.5" cy="369.5" r="5.98" fill="url(#rbc)"/>
<circle cx="369.5" cy="371" r="5.45" fill="url(#rbc)"/>
<circle cx="387.5" cy="379.2" r="5.45" fill="url(#rbc)"/>
<circle cx="405.5" cy="377" r="5.98" fill="url(#rbc)"/>
<circle cx="420.5" cy="369.5" r="5.98" fill="url(#rbc)"/>
<circle cx="398" cy="383.7" r="5.45" fill="url(#rbc)"/>
<circle cx="423.5" cy="383" r="5.45" fill="url(#rbc)"/>
<circle cx="436" cy="339.5" r="5.98" fill="url(#rbc)"/>
<circle cx="444.2" cy="338.7" r="5.98" fill="url(#rbc)"/>
<circle cx="461.5" cy="333.5" r="5.45" fill="url(#rbc)"/>
<circle cx="469" cy="336.5" r="5.98" fill="url(#rbc)"/>
<circle cx="479.5" cy="332" r="5.45" fill="url(#rbc)"/>
<circle cx="490" cy="332.7" r="5.45" fill="url(#rbc)"/>
<circle cx="435.2" cy="351.5" r="5.45" fill="url(#rbc)"/>
<circle cx="483.2" cy="351.5" r="7.03" fill="url(#rbc)"/>
<circle cx="448" cy="362" r="5.45" fill="url(#rbc)"/>
<circle cx="454.7" cy="369.5" r="5.98" fill="url(#rbc)"/>
<circle cx="466.7" cy="364.2" r="5.98" fill="url(#rbc)"/>
<circle cx="478" cy="369.5" r="5.45" fill="url(#rbc)"/>
<circle cx="473.5" cy="380" r="5.45" fill="url(#rbc)"/>
<circle cx="460.7" cy="381.5" r="5.45" fill="url(#rbc)"/>
<circle cx="375.5" cy="394" r="4.40" fill="url(#rbc)"/>
<circle cx="395" cy="388" r="6.50" fill="url(#rbc)"/>
<circle cx="405.5" cy="384.2" r="5.45" fill="url(#rbc)"/>
<circle cx="396.5" cy="397" r="5.98" fill="url(#rbc)"/>
<circle cx="410.7" cy="397" r="6.50" fill="url(#rbc)"/>
<circle cx="420.5" cy="388" r="5.98" fill="url(#rbc)"/>
<circle cx="378.5" cy="405.2" r="6.50" fill="url(#rbc)"/>
<circle cx="392" cy="404.5" r="5.45" fill="url(#rbc)"/>
<circle cx="375.5" cy="411.2" r="5.45" fill="url(#rbc)"/>
<circle cx="386" cy="413.5" r="5.45" fill="url(#rbc)"/>
<circle cx="402.5" cy="414.2" r="6.50" fill="url(#rbc)"/>
<circle cx="416" cy="412.7" r="5.98" fill="url(#rbc)"/>
<circle cx="364.2" cy="419.5" r="5.45" fill="url(#rbc)"/>
<circle cx="374.7" cy="422.5" r="5.45" fill="url(#rbc)"/>
<circle cx="390.5" cy="419.5" r="5.45" fill="url(#rbc)"/>
<circle cx="395" cy="427" r="5.45" fill="url(#rbc)"/>
<circle cx="390.5" cy="433" r="5.45" fill="url(#rbc)"/>
<circle cx="404" cy="432.2" r="5.98" fill="url(#rbc)"/>
<circle cx="422" cy="430" r="5.45" fill="url(#rbc)"/>
<circle cx="359" cy="431.5" r="4.93" fill="url(#rbc)"/>
<circle cx="419" cy="404.5" r="4.40" fill="url(#rbc)"/>
<circle cx="475" cy="389.5" r="6.50" fill="url(#rbc)"/>
<circle cx="470.5" cy="385" r="5.45" fill="url(#rbc)"/>
<circle cx="442" cy="420.2" r="4.93" fill="url(#rbc)"/>
<circle cx="457" cy="418.7" r="5.45" fill="url(#rbc)"/>
<circle cx="445.7" cy="430" r="6.50" fill="url(#rbc)"/>
<circle cx="457" cy="434.5" r="5.45" fill="url(#rbc)"/>
<circle cx="496.7" cy="419.5" r="5.45" fill="url(#rbc)"/>
<circle cx="497.5" cy="432.2" r="5.45" fill="url(#rbc)"/>
<circle cx="487" cy="436.7" r="4.93" fill="url(#rbc)"/>
<circle cx="428.5" cy="430" r="4.40" fill="url(#rbc)"/>
<circle cx="497" cy="346" r="5.45" fill="url(#rbc)"/>
<path d="M381.00,350.00 C383.42,346.25 391.50,345.50 396.00,345.50 C400.50,345.50 405.58,347.25 408.00,350.00 C410.42,352.75 411.17,358.25 410.50,362.00 C409.83,365.75 407.08,370.42 404.00,372.50 C400.92,374.58 395.75,375.25 392.00,374.50 C388.25,373.75 383.33,372.08 381.50,368.00 C379.67,363.92 378.58,353.75 381.00,350.00 Z" fill="#eddcee" opacity="0.95"/>
<path d="M408.00,348.00 C410.50,345.08 420.25,345.17 424.00,346.50 C427.75,347.83 429.75,352.50 430.50,356.00 C431.25,359.50 430.58,364.92 428.50,367.50 C426.42,370.08 421.25,372.08 418.00,371.50 C414.75,370.92 410.67,367.92 409.00,364.00 C407.33,360.08 405.50,350.92 408.00,348.00 Z" fill="#ecdaec" opacity="0.95"/>
<circle cx="362" cy="380" r="9" fill="#b784c0" opacity="0.92"/>
<circle cx="363.5" cy="389.5" r="8" fill="#c596c8" opacity="0.92"/>
<circle cx="493" cy="356" r="9" fill="#dcc3df" opacity="0.92"/>
<circle cx="491.5" cy="371" r="9" fill="#e2c9e3" opacity="0.92"/>
<circle cx="442" cy="377" r="6.5" fill="#c99ccc" opacity="0.92"/>
<circle cx="445" cy="388" r="8" fill="#ddc6e2" opacity="0.92"/>
<circle cx="487" cy="386.5" r="8" fill="#d9bde0" opacity="0.92"/>
<circle cx="440" cy="405" r="10" fill="#e8d3ea" opacity="0.92"/>
<circle cx="460" cy="405" r="10" fill="#e8d3ea" opacity="0.92"/>
<circle cx="358.2" cy="332.7" r="4" fill="url(#nuc)"/>
<circle cx="386.7" cy="364.2" r="3.6" fill="url(#nuc)"/>
<circle cx="393.5" cy="367.2" r="4.0" fill="url(#nuc)"/>
<circle cx="401.7" cy="358.2" r="3.6" fill="url(#nuc)"/>
<circle cx="398" cy="362" r="3.0" fill="url(#nuc)"/>
<circle cx="374" cy="379.2" r="6.5" fill="url(#nuc)"/>
<circle cx="375.5" cy="385" r="5" fill="url(#nuc)"/>
<circle cx="436" cy="367.2" r="7" fill="url(#nuc)"/>
<circle cx="494.5" cy="388" r="8.5" fill="url(#nuc)"/>
<circle cx="439.7" cy="403" r="4.5" fill="url(#nuc)"/>
<circle cx="438.2" cy="411.2" r="4" fill="url(#nuc)"/>
<circle cx="442.7" cy="412" r="3.5" fill="url(#nuc)"/>
<circle cx="457.7" cy="400" r="4" fill="url(#nuc)"/>
<circle cx="463" cy="402.2" r="4.5" fill="url(#nuc)"/>
<circle cx="460" cy="411.2" r="4" fill="url(#nuc)"/>
<circle cx="414.5" cy="438" r="5" fill="url(#nuc)"/>
<circle cx="494.5" cy="384.5" r="4" fill="url(#nuc)"/>
<circle cx="488" cy="368" r="2" fill="url(#nuc)"/>
</g>
<path d="M411.00,356.50 C411.13,354.50 412.50,352.50 414.00,351.50 C415.50,350.50 418.00,350.50 420.00,350.50 C422.00,350.50 424.33,350.67 426.00,351.50 C427.67,352.33 429.37,353.83 430.00,355.50 C430.63,357.17 430.30,359.67 429.80,361.50 C429.30,363.33 428.30,365.50 427.00,366.50 C425.70,367.50 423.03,367.92 422.00,367.50 C420.97,367.08 420.50,365.17 420.80,364.00 C421.10,362.83 423.27,361.58 423.80,360.50 C424.33,359.42 424.55,358.25 424.00,357.50 C423.45,356.75 421.58,356.08 420.50,356.00 C419.42,355.92 418.17,356.08 417.50,357.00 C416.83,357.92 417.22,360.42 416.50,361.50 C415.78,362.58 414.12,364.33 413.20,363.50 C412.28,362.67 410.87,358.50 411.00,356.50 Z" fill="#5a1c78"/>
<path d="M304.98,347.74 L299.82,352.04 L298.16,350.04 L297.20,356.70 L303.92,356.96 L302.26,354.96 L307.42,350.66 Z" fill="#66be63" stroke="#1f6b2c" stroke-width="1.0" stroke-linejoin="round"/>
<path d="M249.56,400.02 L253.56,403.02 L252.00,405.10 L258.70,404.50 L257.40,397.90 L255.84,399.98 L251.84,396.98 Z" fill="#66be63" stroke="#1f6b2c" stroke-width="1.0" stroke-linejoin="round"/>
<path d="M379.43,344.61 L384.02,348.76 L382.27,350.69 L389.00,350.70 L388.31,344.01 L386.56,345.94 L381.97,341.79 Z" fill="#66be63" stroke="#1f6b2c" stroke-width="1.0" stroke-linejoin="round"/>
<path d="M429.04,423.84 L431.51,421.38 L433.35,423.22 L433.70,416.50 L426.98,416.85 L428.82,418.69 L426.36,421.16 Z" fill="#66be63" stroke="#1f6b2c" stroke-width="1.0" stroke-linejoin="round"/>
<path d="M476.33,417.35 L473.10,414.16 L474.92,412.30 L468.20,412.00 L468.60,418.71 L470.43,416.86 L473.67,420.05 Z" fill="#66be63" stroke="#1f6b2c" stroke-width="1.0" stroke-linejoin="round"/>
<rect x="205.1" y="329.6" width="145.7" height="109.3" fill="none" stroke="#df7f78" stroke-width="1.4"/>
<rect x="356.1" y="329.6" width="146.1" height="109.3" fill="none" stroke="#df7f78" stroke-width="1.4"/>
</g>

<g id="panelD">
<text x="7.8" y="468.8" font-size="12.6" font-weight="bold" fill="#111" stroke="#111" stroke-width="0.35">D</text>
<text x="133.50" y="483.40" font-size="9.4" fill="#222" text-anchor="middle" stroke="#222" stroke-width="0.2">WT CXCR4</text>
<text x="369.10" y="483.50" font-size="9.4" fill="#222" text-anchor="middle" stroke="#222" stroke-width="0.2">WHIM-mutated CXCR4</text>
<rect x="22.8" y="566" width="220.7" height="181.3" fill="#f2f5fb"/><rect x="255" y="566" width="228" height="181.3" fill="#f2f5fb"/>
<line x1="21.5" y1="557.5" x2="483" y2="557.5" stroke="#dde3ec" stroke-width="10" stroke-dasharray="0.6 1.6" opacity="0.3"/>
<line x1="21.5" y1="550.3" x2="483" y2="550.3" stroke="#abb6c3" stroke-width="2.5" stroke-dasharray="1.7 0.4"/>
<line x1="21.5" y1="564.6" x2="483" y2="564.6" stroke="#a9b5bf" stroke-width="2.5" stroke-dasharray="1.7 0.4"/>
<line x1="246.8" y1="492.5" x2="246.8" y2="748" stroke="#8a93a6" stroke-width="1.4" stroke-dasharray="3.9 3.9"/>
<line x1="251.4" y1="492.5" x2="251.4" y2="748" stroke="#8a93a6" stroke-width="1.4" stroke-dasharray="3.9 3.9"/>
<text x="47.00" y="496.30" font-size="7.3" fill="#222" text-anchor="middle" stroke="#222" stroke-width="0.2">CXCL 12</text>
<circle cx="47.5" cy="507.2" r="7.3" fill="#f7b722" stroke="#e39612" stroke-width="0.8"/><circle cx="46.0" cy="505.4" r="3.285" fill="#fbd15e" opacity="0.4"/>
<path d="M63.5,505.8 C71,507.5 76.5,512 79.6,518.2" fill="none" stroke="#1a1a1a" stroke-width="1.1"/>
<path d="M81.6,522.6 L76.9,518.9 L80.9,517.1 Z" fill="#1a1a1a"/>
<g transform="translate(0,0)">
<path d="M106,578 C115,583 121,593 120.8,604 C120.5,616 110,626.5 99,626.5 C95.5,626.5 95.5,623 98.5,622.3 C106,620 110.7,612 110.7,602 C110.7,592 108,585 104.5,580.5 C103.8,579 104.8,577.5 106,578 Z" fill="#d0e2f5" stroke="#8db1dc" stroke-width="1"/>
<path d="M96,587 C104.5,586 109.8,592 110,601.5 C110.3,612 106,621 99,621.7 C95,622 92.2,620 92.7,617 C93.2,614 95.3,613 94.3,611 C93.3,609 91,608 91,604 L91,595 C91,590 93,587.5 96,587 Z" fill="#f9d7e7" stroke="#c8a3c9" stroke-width="1"/>
<path d="M61,587 L71,587 C73.5,587 74,585.5 74,583.5 C74,581.2 75.8,580.6 79,580.6 L88,580.6 C90,580.6 91,582 93,582 L103,582 C106.2,582 106.5,588.6 103,588.6 L94.5,588.6 C92.5,588.6 91.6,590 91.6,592 L91.6,600 C91.6,603 89.5,604 88.6,605.6 C89.5,607 91.6,608 91.6,611 L91.6,617 C91.6,620.4 89.6,621.5 86.5,621.5 L61,621.5 C58,621.5 56.5,620 56.5,617 L56.5,611 C56.5,608 58,607 59,605.6 C58,604 56,603 56,600 L56,592 C56,589 58,587 61,587 Z" fill="#dcecd7" stroke="#a6c39f" stroke-width="1"/>
<path d="M64.5,605.6 L67,602.6 L82.3,602.6 L85,605.6 L82.3,608.6 L67,608.6 Z" fill="#fafcfd" stroke="#a6c39f" stroke-width="1"/>
<path d="M57.2,603 L59.6,605.6 L57.2,608.2" fill="none" stroke="#2f7d36" stroke-width="1.6"/>
<text x="75.80" y="598.20" font-size="7.0" fill="#555" text-anchor="middle" stroke="#555" stroke-width="0.2">α</text>
<text x="99.20" y="605.20" font-size="7.0" fill="#555" text-anchor="middle" stroke="#555" stroke-width="0.2">β</text>
<text x="115.60" y="611.60" font-size="7.0" fill="#555" text-anchor="middle" stroke="#555" stroke-width="0.2">γ</text>
</g>
<g transform="translate(69.7,535.5)">
<path d="M1,3 C1,1 2,0.5 4,0.5 L28,0.5 C30.5,0.5 32,1.5 32,3.5 L31,38.5 C31,41 29.5,42 27,42 L24,43.5 L8,44 L4.5,42 C2.5,42 1.5,40.5 1.5,38.5 Z" fill="#11709a"/>
<path d="M0.10,3.60 Q0.10,2.00 3.90,2.00 Q7.70,2.00 7.70,3.60 L8.10,39.40 Q8.10,41.00 4.80,41.00 Q1.50,41.00 1.50,39.40 Z" fill="#1d89b8" stroke="#0f6891" stroke-width="0.6"/>
<path d="M1.80,5.00 L3.00,38.00" stroke="#3ea3cf" stroke-width="1.2" opacity="0.55"/>
<ellipse cx="3.90" cy="3.40" rx="2.80" ry="1.0" fill="#52b3dc" opacity="0.75"/>
<path d="M7.20,2.60 Q7.20,1.00 10.70,1.00 Q14.20,1.00 14.20,2.60 L14.20,42.40 Q14.20,44.00 11.00,44.00 Q7.80,44.00 7.80,42.40 Z" fill="#1d89b8" stroke="#0f6891" stroke-width="0.6"/>
<path d="M8.90,4.00 L9.30,41.00" stroke="#3ea3cf" stroke-width="1.2" opacity="0.55"/>
<ellipse cx="10.70" cy="2.40" rx="2.50" ry="1.0" fill="#52b3dc" opacity="0.75"/>
<path d="M14.00,4.80 Q14.00,3.20 17.20,3.20 Q20.40,3.20 20.40,4.80 L19.90,41.90 Q19.90,43.50 17.00,43.50 Q14.10,43.50 14.10,41.90 Z" fill="#1d89b8" stroke="#0f6891" stroke-width="0.6"/>
<path d="M15.70,6.20 L15.60,40.50" stroke="#3ea3cf" stroke-width="1.2" opacity="0.55"/>
<ellipse cx="17.20" cy="4.60" rx="2.20" ry="1.0" fill="#52b3dc" opacity="0.75"/>
<path d="M19.90,3.20 Q19.90,1.60 23.20,1.60 Q26.50,1.60 26.50,3.20 L25.60,41.60 Q25.60,43.20 22.60,43.20 Q19.60,43.20 19.60,41.60 Z" fill="#1d89b8" stroke="#0f6891" stroke-width="0.6"/>
<path d="M21.60,4.60 L21.10,40.20" stroke="#3ea3cf" stroke-width="1.2" opacity="0.55"/>
<ellipse cx="23.20" cy="3.00" rx="2.30" ry="1.0" fill="#52b3dc" opacity="0.75"/>
<path d="M25.20,4.20 Q25.20,2.60 28.60,2.60 Q32.00,2.60 32.00,4.20 L30.80,38.60 Q30.80,40.20 27.80,40.20 Q24.80,40.20 24.80,38.60 Z" fill="#1d89b8" stroke="#0f6891" stroke-width="0.6"/>
<path d="M26.90,5.60 L26.30,37.20" stroke="#3ea3cf" stroke-width="1.2" opacity="0.55"/>
<ellipse cx="28.60" cy="4.00" rx="2.40" ry="1.0" fill="#52b3dc" opacity="0.75"/>
<path d="M4,40.5 C3.5,47.5 11.5,48.5 11,43.5" fill="none" stroke="#2b3a42" stroke-width="1.2"/>
<path d="M17,43.2 C16.8,49.5 23.8,49.5 23.4,43" fill="none" stroke="#2b3a42" stroke-width="1.2"/>
<path d="M2.5,3 C2,-3.5 10,-4 10,1.5" fill="none" stroke="#2b3a42" stroke-width="1.2"/>
<path d="M15.5,3.5 C15,-3.2 23,-3.5 22.8,2.2" fill="none" stroke="#2b3a42" stroke-width="1.2"/>
</g>
<circle cx="89.2" cy="531.3" r="6.8" fill="#f7b722" stroke="#e39612" stroke-width="0.8"/><circle cx="87.7" cy="529.5" r="3.06" fill="#fbd15e" opacity="0.4"/>
<path d="M96.6,537.6 C97,532 97.6,527.2 100,526.3 C102.2,525.6 103,528.2 101.6,531" fill="none" stroke="#2b3a42" stroke-width="1.2"/>
<polyline points="103.80,558.50 101.00,560.20 103.80,561.90 101.00,563.60 103.80,565.30 101.00,567.00 103.80,568.70 101.00,570.40 103.80,572.10 101.00,573.80" fill="none" stroke="#6ab46a" stroke-width="1.15"/>
<polyline points="109.60,560.00 106.60,561.70 109.60,563.40 106.60,565.10 109.60,566.80 106.60,568.50 109.60,570.20 106.60,571.90 109.60,573.60 106.60,575.30 109.60,577.00 106.60,578.70" fill="none" stroke="#3b8ed8" stroke-width="1.15"/>
<path d="M99.5,578.5 C103.5,580 107.5,576 111.5,575.2 C114.5,574.6 116.8,576.5 117.6,579.5" fill="none" stroke="#2b3a42" stroke-width="1.2"/>
<text x="48.20" y="577.30" font-size="7.4" fill="#222" text-anchor="middle" stroke="#222" stroke-width="0.2">CXCR4</text>
<line x1="120.80" y1="574.10" x2="149.40" y2="574.10" stroke="#1a1a1a" stroke-width="1.1"/><path d="M153.40,574.10 L148.80,576.70 L149.80,574.10 L148.80,571.50 Z" fill="#1a1a1a"/>
<defs><linearGradient id="inhL" x1="0" y1="0" x2="1" y2="0"><stop offset="0" stop-color="#d9536a"/><stop offset="0.6" stop-color="#e07c8c"/><stop offset="1" stop-color="#f4c8d0" stop-opacity="0.3"/></linearGradient></defs>
<path d="M50,613 L40,613 C37.3,613 35.8,614.5 35.8,617.5 L35.8,628.4" fill="none" stroke="#d9536a" stroke-width="1.5"/>
<line x1="40.5" y1="613" x2="51" y2="613" stroke="url(#inhL)" stroke-width="1.5"/>
<line x1="32.6" y1="628.6" x2="39" y2="628.6" stroke="#d9536a" stroke-width="1.8"/>
<rect x="21.30" y="633.30" width="30.20" height="17.20" rx="8.60" fill="#fde9ee" stroke="#d78d9b" stroke-width="1.1"/>
<text x="36.60" y="644.40" font-size="7.2" fill="#2a2a2a" text-anchor="middle" stroke="#2a2a2a" stroke-width="0.2">cAMP</text>
<line x1="85.40" y1="627.00" x2="85.40" y2="645.30" stroke="#1a1a1a" stroke-width="1.4"/><path d="M85.40,650.20 L82.40,644.70 L85.40,645.70 L88.40,644.70 Z" fill="#1a1a1a"/>
<rect x="109.60" y="640.80" width="29.30" height="17.30" rx="8.65" fill="#e0f0e0" stroke="#7cb87c" stroke-width="1.1"/>
<text x="125.60" y="652.00" font-size="7.2" fill="#2a2a2a" text-anchor="middle" stroke="#2a2a2a" stroke-width="0.2">AKT</text>
<circle cx="105.7" cy="641.9" r="8.9" fill="#f08a1d" stroke="#c96b0c" stroke-width="0.9"/><text x="105.70" y="644.50" font-size="7.4" fill="#3a2200" text-anchor="middle" stroke="#3a2200" stroke-width="0.2">P</text>
<rect x="90.00" y="663.80" width="46.60" height="18.00" rx="9.00" fill="#fde3ca" stroke="#dfb58e" stroke-width="1.1"/>
<text x="115.20" y="675.80" font-size="7.2" fill="#2a2a2a" text-anchor="middle" stroke="#2a2a2a" stroke-width="0.2">ERK1/2</text>
<circle cx="85.4" cy="665.0" r="8.9" fill="#f08a1d" stroke="#c96b0c" stroke-width="0.9"/><text x="85.40" y="667.60" font-size="7.4" fill="#3a2200" text-anchor="middle" stroke="#3a2200" stroke-width="0.2">P</text>
<rect x="45.00" y="660.20" width="27.60" height="16.80" rx="8.40" fill="#dcf0f2" stroke="#6aa8ae" stroke-width="1.1"/>
<text x="58.60" y="671.20" font-size="7.2" fill="#2a2a2a" text-anchor="middle" stroke="#2a2a2a" stroke-width="0.2">Ca++</text>
<line x1="40.40" y1="676.00" x2="40.40" y2="661.90" stroke="#1a1a1a" stroke-width="1.3"/><path d="M40.40,658.00 L42.80,662.50 L40.40,661.50 L38.00,662.50 Z" fill="#1a1a1a"/>
<path d="M38,680.2 C38,683.8 40,685.2 44,685.2 L131.5,685.2 C135.3,685.2 137.3,683.8 137.3,680.2" fill="none" stroke="#222" stroke-width="1.6"/>
<text x="64.60" y="699.90" font-size="7.0" fill="#333" text-anchor="start" stroke="#333" stroke-width="0.2">Proliferation</text>
<text x="64.60" y="708.90" font-size="7.0" fill="#333" text-anchor="start" stroke="#333" stroke-width="0.2">Migration</text>
<text x="64.60" y="717.90" font-size="7.0" fill="#333" text-anchor="start" stroke="#333" stroke-width="0.2">Survival</text>
<text x="64.60" y="726.90" font-size="7.0" fill="#333" text-anchor="start" stroke="#333" stroke-width="0.2">Chemotaxis</text>
<path d="M170,588 C174,586.2 178.5,587 180.8,588 L180.8,581.5 C180.8,579 186.2,579 186.5,581.5 L187,590 C192,587.5 198,584 203,582.7 C208,581.5 211.2,584 210.6,588.6 C210,593 205,596 200,598.6 C195,601 191,604 188,606 C183,609.2 175,609.6 169.5,607.6 C164.4,605.6 163.5,598 164.5,593.5 C165.3,590 167.5,588.8 170,588 Z" fill="#fbd8b4"/>
<path d="M182.5,587 C184.5,592 185,598 183.5,604.5" fill="none" stroke="#fde9d5" stroke-width="2.2" opacity="0.85"/>
<g transform="translate(159.6,536.0)">
<path d="M1,3 C1,1 2,0.5 4,0.5 L28,0.5 C30.5,0.5 32,1.5 32,3.5 L31,38.5 C31,41 29.5,42 27,42 L24,43.5 L8,44 L4.5,42 C2.5,42 1.5,40.5 1.5,38.5 Z" fill="#11709a"/>
<path d="M0.10,3.60 Q0.10,2.00 3.90,2.00 Q7.70,2.00 7.70,3.60 L8.10,39.40 Q8.10,41.00 4.80,41.00 Q1.50,41.00 1.50,39.40 Z" fill="#1d89b8" stroke="#0f6891" stroke-width="0.6"/>
<path d="M1.80,5.00 L3.00,38.00" stroke="#3ea3cf" stroke-width="1.2" opacity="0.55"/>
<ellipse cx="3.90" cy="3.40" rx="2.80" ry="1.0" fill="#52b3dc" opacity="0.75"/>
<path d="M7.20,2.60 Q7.20,1.00 10.70,1.00 Q14.20,1.00 14.20,2.60 L14.20,42.40 Q14.20,44.00 11.00,44.00 Q7.80,44.00 7.80,42.40 Z" fill="#1d89b8" stroke="#0f6891" stroke-width="0.6"/>
<path d="M8.90,4.00 L9.30,41.00" stroke="#3ea3cf" stroke-width="1.2" opacity="0.55"/>
<ellipse cx="10.70" cy="2.40" rx="2.50" ry="1.0" fill="#52b3dc" opacity="0.75"/>
<path d="M14.00,4.80 Q14.00,3.20 17.20,3.20 Q20.40,3.20 20.40,4.80 L19.90,41.90 Q19.90,43.50 17.00,43.50 Q14.10,43.50 14.10,41.90 Z" fill="#1d89b8" stroke="#0f6891" stroke-width="0.6"/>
<path d="M15.70,6.20 L15.60,40.50" stroke="#3ea3cf" stroke-width="1.2" opacity="0.55"/>
<ellipse cx="17.20" cy="4.60" rx="2.20" ry="1.0" fill="#52b3dc" opacity="0.75"/>
<path d="M19.90,3.20 Q19.90,1.60 23.20,1.60 Q26.50,1.60 26.50,3.20 L25.60,41.60 Q25.60,43.20 22.60,43.20 Q19.60,43.20 19.60,41.60 Z" fill="#1d89b8" stroke="#0f6891" stroke-width="0.6"/>
<path d="M21.60,4.60 L21.10,40.20" stroke="#3ea3cf" stroke-width="1.2" opacity="0.55"/>
<ellipse cx="23.20" cy="3.00" rx="2.30" ry="1.0" fill="#52b3dc" opacity="0.75"/>
<path d="M25.20,4.20 Q25.20,2.60 28.60,2.60 Q32.00,2.60 32.00,4.20 L30.80,38.60 Q30.80,40.20 27.80,40.20 Q24.80,40.20 24.80,38.60 Z" fill="#1d89b8" stroke="#0f6891" stroke-width="0.6"/>
<path d="M26.90,5.60 L26.30,37.20" stroke="#3ea3cf" stroke-width="1.2" opacity="0.55"/>
<ellipse cx="28.60" cy="4.00" rx="2.40" ry="1.0" fill="#52b3dc" opacity="0.75"/>
<path d="M4,40.5 C3.5,47.5 11.5,48.5 11,43.5" fill="none" stroke="#17698c" stroke-width="1.2"/>
<path d="M17,43.2 C16.8,49.5 23.8,49.5 23.4,43" fill="none" stroke="#17698c" stroke-width="1.2"/>
<path d="M2.5,3 C2,-3.5 10,-4 10,1.5" fill="none" stroke="#17698c" stroke-width="1.2"/>
<path d="M15.5,3.5 C15,-3.2 23,-3.5 22.8,2.2" fill="none" stroke="#17698c" stroke-width="1.2"/>
</g>
<path d="M174.9,523.1 C179,522 183,526.5 186.3,528.5 C189.5,530.5 193.5,528.5 195.5,531.5 C197.3,534.5 193,537 190.6,539.8" fill="none" stroke="#17698c" stroke-width="1.6"/>
<circle cx="171.6" cy="592.9" r="3.4" fill="#e0801f" stroke="#b5601a" stroke-width="0.8"/>
<circle cx="171.6" cy="592.9" r="0.8" fill="#7a3a05"/>
<circle cx="182.4" cy="600.3" r="3.4" fill="#e0801f" stroke="#b5601a" stroke-width="0.8"/>
<circle cx="182.4" cy="600.3" r="0.8" fill="#7a3a05"/>
<circle cx="173.2" cy="603.7" r="3.4" fill="#e0801f" stroke="#b5601a" stroke-width="0.8"/>
<circle cx="173.2" cy="603.7" r="0.8" fill="#7a3a05"/>
<text x="191.20" y="614.30" font-size="7.0" fill="#333" text-anchor="middle" stroke="#333" stroke-width="0.2">β-arrestin</text>
<path d="M163.7,589 C160.6,589 159.3,590.5 159.3,593 L159.3,684.3 C159.3,687 160.6,688.2 163.9,688.2" fill="none" stroke="#5cb35c" stroke-width="1.3"/>
<text transform="translate(154.6,641.3) rotate(-90)" font-size="7.0" fill="#5aa85a" stroke="#5aa85a" stroke-width="0.08" text-anchor="middle">termination of signaling</text>
<line x1="193.50" y1="625.40" x2="193.50" y2="647.20" stroke="#1a1a1a" stroke-width="1.3"/><path d="M193.50,651.80 L190.70,646.60 L193.50,647.60 L196.30,646.60 Z" fill="#1a1a1a"/>
<text x="194.60" y="667.00" font-size="7.0" fill="#333" text-anchor="middle" stroke="#333" stroke-width="0.2">internalization</text>
<text x="194.60" y="676.10" font-size="7.0" fill="#333" text-anchor="middle" stroke="#333" stroke-width="0.2">(endosome)</text>
<line x1="193.50" y1="687.80" x2="193.50" y2="709.60" stroke="#1a1a1a" stroke-width="1.3"/><path d="M193.50,714.20 L190.70,709.00 L193.50,710.00 L196.30,709.00 Z" fill="#1a1a1a"/>
<text x="194.60" y="727.40" font-size="7.0" fill="#333" text-anchor="middle" stroke="#333" stroke-width="0.2">degradation</text>
<text x="194.60" y="736.40" font-size="7.0" fill="#333" text-anchor="middle" stroke="#333" stroke-width="0.2">(lysosome)</text>
<line x1="223.10" y1="652.00" x2="223.10" y2="590.90" stroke="#1a1a1a" stroke-width="1.2"/><path d="M223.10,586.70 L225.70,591.50 L223.10,590.50 L220.50,591.50 Z" fill="#1a1a1a"/>
<text transform="translate(232.7,624.6) rotate(-90)" font-size="7.0" fill="#333" text-anchor="middle" stroke="#333" stroke-width="0.2">recycling</text>
<g transform="translate(214.3,0)">
<path d="M106,578 C115,583 121,593 120.8,604 C120.5,616 110,626.5 99,626.5 C95.5,626.5 95.5,623 98.5,622.3 C106,620 110.7,612 110.7,602 C110.7,592 108,585 104.5,580.5 C103.8,579 104.8,577.5 106,578 Z" fill="#d0e2f5" stroke="#8db1dc" stroke-width="1"/>
<path d="M96,587 C104.5,586 109.8,592 110,601.5 C110.3,612 106,621 99,621.7 C95,622 92.2,620 92.7,617 C93.2,614 95.3,613 94.3,611 C93.3,609 91,608 91,604 L91,595 C91,590 93,587.5 96,587 Z" fill="#f9d7e7" stroke="#c8a3c9" stroke-width="1"/>
<path d="M61,587 L71,587 C73.5,587 74,585.5 74,583.5 C74,581.2 75.8,580.6 79,580.6 L88,580.6 C90,580.6 91,582 93,582 L103,582 C106.2,582 106.5,588.6 103,588.6 L94.5,588.6 C92.5,588.6 91.6,590 91.6,592 L91.6,600 C91.6,603 89.5,604 88.6,605.6 C89.5,607 91.6,608 91.6,611 L91.6,617 C91.6,620.4 89.6,621.5 86.5,621.5 L61,621.5 C58,621.5 56.5,620 56.5,617 L56.5,611 C56.5,608 58,607 59,605.6 C58,604 56,603 56,600 L56,592 C56,589 58,587 61,587 Z" fill="#dcecd7" stroke="#a6c39f" stroke-width="1"/>
<path d="M64.5,605.6 L67,602.6 L82.3,602.6 L85,605.6 L82.3,608.6 L67,608.6 Z" fill="#fafcfd" stroke="#a6c39f" stroke-width="1"/>
<path d="M57.2,603 L59.6,605.6 L57.2,608.2" fill="none" stroke="#2f7d36" stroke-width="1.6"/>
<text x="75.80" y="598.20" font-size="7.0" fill="#555" text-anchor="middle" stroke="#555" stroke-width="0.2">α</text>
<text x="99.20" y="605.20" font-size="7.0" fill="#555" text-anchor="middle" stroke="#555" stroke-width="0.2">β</text>
<text x="115.60" y="611.60" font-size="7.0" fill="#555" text-anchor="middle" stroke="#555" stroke-width="0.2">γ</text>
</g>
<g transform="translate(284.0,535.0)">
<path d="M1,3 C1,1 2,0.5 4,0.5 L28,0.5 C30.5,0.5 32,1.5 32,3.5 L31,38.5 C31,41 29.5,42 27,42 L24,43.5 L8,44 L4.5,42 C2.5,42 1.5,40.5 1.5,38.5 Z" fill="#11709a"/>
<path d="M0.10,3.60 Q0.10,2.00 3.90,2.00 Q7.70,2.00 7.70,3.60 L8.10,39.40 Q8.10,41.00 4.80,41.00 Q1.50,41.00 1.50,39.40 Z" fill="#1d89b8" stroke="#0f6891" stroke-width="0.6"/>
<path d="M1.80,5.00 L3.00,38.00" stroke="#3ea3cf" stroke-width="1.2" opacity="0.55"/>
<ellipse cx="3.90" cy="3.40" rx="2.80" ry="1.0" fill="#52b3dc" opacity="0.75"/>
<path d="M7.20,2.60 Q7.20,1.00 10.70,1.00 Q14.20,1.00 14.20,2.60 L14.20,42.40 Q14.20,44.00 11.00,44.00 Q7.80,44.00 7.80,42.40 Z" fill="#1d89b8" stroke="#0f6891" stroke-width="0.6"/>
<path d="M8.90,4.00 L9.30,41.00" stroke="#3ea3cf" stroke-width="1.2" opacity="0.55"/>
<ellipse cx="10.70" cy="2.40" rx="2.50" ry="1.0" fill="#52b3dc" opacity="0.75"/>
<path d="M14.00,4.80 Q14.00,3.20 17.20,3.20 Q20.40,3.20 20.40,4.80 L19.90,41.90 Q19.90,43.50 17.00,43.50 Q14.10,43.50 14.10,41.90 Z" fill="#1d89b8" stroke="#0f6891" stroke-width="0.6"/>
<path d="M15.70,6.20 L15.60,40.50" stroke="#3ea3cf" stroke-width="1.2" opacity="0.55"/>
<ellipse cx="17.20" cy="4.60" rx="2.20" ry="1.0" fill="#52b3dc" opacity="0.75"/>
<path d="M19.90,3.20 Q19.90,1.60 23.20,1.60 Q26.50,1.60 26.50,3.20 L25.60,41.60 Q25.60,43.20 22.60,43.20 Q19.60,43.20 19.60,41.60 Z" fill="#1d89b8" stroke="#0f6891" stroke-width="0.6"/>
<path d="M21.60,4.60 L21.10,40.20" stroke="#3ea3cf" stroke-width="1.2" opacity="0.55"/>
<ellipse cx="23.20" cy="3.00" rx="2.30" ry="1.0" fill="#52b3dc" opacity="0.75"/>
<path d="M25.20,4.20 Q25.20,2.60 28.60,2.60 Q32.00,2.60 32.00,4.20 L30.80,38.60 Q30.80,40.20 27.80,40.20 Q24.80,40.20 24.80,38.60 Z" fill="#1d89b8" stroke="#0f6891" stroke-width="0.6"/>
<path d="M26.90,5.60 L26.30,37.20" stroke="#3ea3cf" stroke-width="1.2" opacity="0.55"/>
<ellipse cx="28.60" cy="4.00" rx="2.40" ry="1.0" fill="#52b3dc" opacity="0.75"/>
<path d="M4,40.5 C3.5,47.5 11.5,48.5 11,43.5" fill="none" stroke="#2b3a42" stroke-width="1.2"/>
<path d="M17,43.2 C16.8,49.5 23.8,49.5 23.4,43" fill="none" stroke="#2b3a42" stroke-width="1.2"/>
<path d="M2.5,3 C2,-3.5 10,-4 10,1.5" fill="none" stroke="#2b3a42" stroke-width="1.2"/>
<path d="M15.5,3.5 C15,-3.2 23,-3.5 22.8,2.2" fill="none" stroke="#2b3a42" stroke-width="1.2"/>
</g>
<circle cx="303.5" cy="531.0" r="6.8" fill="#f7b722" stroke="#e39612" stroke-width="0.8"/><circle cx="302.0" cy="529.2" r="3.06" fill="#fbd15e" opacity="0.4"/>
<path d="M310.9,537.6 C311.3,532 311.9,527.2 314.3,526.3 C316.5,525.6 317.3,528.2 315.9,531" fill="none" stroke="#2b3a42" stroke-width="1.2"/>
<polyline points="318.10,558.50 315.30,560.20 318.10,561.90 315.30,563.60 318.10,565.30 315.30,567.00 318.10,568.70 315.30,570.40 318.10,572.10 315.30,573.80" fill="none" stroke="#6ab46a" stroke-width="1.15"/>
<polyline points="323.90,560.00 320.90,561.70 323.90,563.40 320.90,565.10 323.90,566.80 320.90,568.50 323.90,570.20 320.90,571.90 323.90,573.60 320.90,575.30 323.90,577.00 320.90,578.70" fill="none" stroke="#3b8ed8" stroke-width="1.15"/>
<path d="M313.8,578.5 C317.8,580 321.8,576 325.8,575.2 C328.8,574.6 331.1,576.5 331.9,579.5" fill="none" stroke="#2b3a42" stroke-width="1.2"/>
<line x1="349.20" y1="574.20" x2="377.60" y2="574.20" stroke="#1a1a1a" stroke-width="1.1"/><path d="M381.60,574.20 L377.00,576.80 L378.00,574.20 L377.00,571.60 Z" fill="#1a1a1a"/>
<defs><linearGradient id="inhR" x1="0" y1="0" x2="0" y2="1"><stop offset="0" stop-color="#f07a5a" stop-opacity="0.5"/><stop offset="0.35" stop-color="#e3361f"/><stop offset="1" stop-color="#dd2a1b"/></linearGradient></defs>
<rect x="278.3" y="625.2" width="4" height="14" fill="url(#inhR)"/>
<rect x="275.3" y="638.3" width="10.4" height="2.8" fill="#dd2a1b"/>
<rect x="260.20" y="643.50" width="29.80" height="17.30" rx="8.65" fill="#fde9ee" stroke="#d78d9b" stroke-width="1.1"/>
<text x="275.30" y="654.50" font-size="7.2" fill="#2a2a2a" text-anchor="middle" stroke="#2a2a2a" stroke-width="0.2">cAMP</text>
<line x1="302.60" y1="634.20" x2="302.60" y2="657.30" stroke="#1a1a1a" stroke-width="1.4"/><path d="M302.60,662.20 L299.60,656.70 L302.60,657.70 L305.60,656.70 Z" fill="#1a1a1a"/>
<rect x="304.20" y="671.20" width="48.50" height="18.40" rx="9.20" fill="#fde3ca" stroke="#dfb58e" stroke-width="1.1"/>
<text x="330.40" y="683.40" font-size="7.2" fill="#2a2a2a" text-anchor="middle" stroke="#2a2a2a" stroke-width="0.2">ERK1/2</text>
<circle cx="302.6" cy="672.8" r="8.9" fill="#f08a1d" stroke="#c96b0c" stroke-width="0.9"/><text x="302.60" y="675.40" font-size="7.4" fill="#3a2200" text-anchor="middle" stroke="#3a2200" stroke-width="0.2">P</text>
<rect x="307.70" y="704.60" width="31.10" height="18.00" rx="9.00" fill="#e0f0e0" stroke="#7cb87c" stroke-width="1.1"/>
<text x="324.20" y="716.60" font-size="7.2" fill="#2a2a2a" text-anchor="middle" stroke="#2a2a2a" stroke-width="0.2">AKT</text>
<circle cx="304.7" cy="706.9" r="8.9" fill="#f08a1d" stroke="#c96b0c" stroke-width="0.9"/><text x="304.70" y="709.50" font-size="7.4" fill="#3a2200" text-anchor="middle" stroke="#3a2200" stroke-width="0.2">P</text>
<line x1="328.50" y1="627.30" x2="336.26" y2="635.97" stroke="#1a1a1a" stroke-width="1.2"/><path d="M338.80,638.80 L334.00,637.19 L336.53,636.27 L337.73,633.85 Z" fill="#1a1a1a"/>
<rect x="337.20" y="638.20" width="27.00" height="18.00" rx="9.00" fill="#dcf0f2" stroke="#6aa8ae" stroke-width="1.1"/>
<text x="350.70" y="649.80" font-size="7.2" fill="#2a2a2a" text-anchor="middle" stroke="#2a2a2a" stroke-width="0.2">Ca++</text>
<line x1="271.90" y1="687.30" x2="271.90" y2="672.30" stroke="#a8264f" stroke-width="1.1"/><path d="M271.90,669.30 L274.00,672.90 L271.90,671.90 L269.80,672.90 Z" fill="#a8264f"/>
<line x1="280.00" y1="687.30" x2="280.00" y2="672.30" stroke="#a8264f" stroke-width="1.1"/><path d="M280.00,669.30 L282.10,672.90 L280.00,671.90 L277.90,672.90 Z" fill="#a8264f"/>
<line x1="287.60" y1="687.30" x2="287.60" y2="672.30" stroke="#a8264f" stroke-width="1.1"/><path d="M287.60,669.30 L289.70,672.90 L287.60,671.90 L285.50,672.90 Z" fill="#a8264f"/>
<line x1="274.90" y1="722.00" x2="274.90" y2="706.40" stroke="#a8264f" stroke-width="1.1"/><path d="M274.90,703.40 L277.00,707.00 L274.90,706.00 L272.80,707.00 Z" fill="#a8264f"/>
<line x1="283.50" y1="722.00" x2="283.50" y2="706.40" stroke="#a8264f" stroke-width="1.1"/><path d="M283.50,703.40 L285.60,707.00 L283.50,706.00 L281.40,707.00 Z" fill="#a8264f"/>
<line x1="291.50" y1="722.00" x2="291.50" y2="706.40" stroke="#a8264f" stroke-width="1.1"/><path d="M291.50,703.40 L293.60,707.00 L291.50,706.00 L289.40,707.00 Z" fill="#a8264f"/>
<line x1="367.70" y1="654.80" x2="367.70" y2="639.20" stroke="#a8264f" stroke-width="1.1"/><path d="M367.70,636.20 L369.80,639.80 L367.70,638.80 L365.60,639.80 Z" fill="#a8264f"/>
<line x1="376.00" y1="654.80" x2="376.00" y2="639.20" stroke="#a8264f" stroke-width="1.1"/><path d="M376.00,636.20 L378.10,639.80 L376.00,638.80 L373.90,639.80 Z" fill="#a8264f"/>
<line x1="384.60" y1="654.80" x2="384.60" y2="639.20" stroke="#a8264f" stroke-width="1.1"/><path d="M384.60,636.20 L386.70,639.80 L384.60,638.80 L382.50,639.80 Z" fill="#a8264f"/>
<g transform="translate(402.0,536.5)">
<path d="M1,3 C1,1 2,0.5 4,0.5 L28,0.5 C30.5,0.5 32,1.5 32,3.5 L31,38.5 C31,41 29.5,42 27,42 L24,43.5 L8,44 L4.5,42 C2.5,42 1.5,40.5 1.5,38.5 Z" fill="#11709a"/>
<path d="M0.10,3.60 Q0.10,2.00 3.90,2.00 Q7.70,2.00 7.70,3.60 L8.10,39.40 Q8.10,41.00 4.80,41.00 Q1.50,41.00 1.50,39.40 Z" fill="#1d89b8" stroke="#0f6891" stroke-width="0.6"/>
<path d="M1.80,5.00 L3.00,38.00" stroke="#3ea3cf" stroke-width="1.2" opacity="0.55"/>
<ellipse cx="3.90" cy="3.40" rx="2.80" ry="1.0" fill="#52b3dc" opacity="0.75"/>
<path d="M7.20,2.60 Q7.20,1.00 10.70,1.00 Q14.20,1.00 14.20,2.60 L14.20,42.40 Q14.20,44.00 11.00,44.00 Q7.80,44.00 7.80,42.40 Z" fill="#1d89b8" stroke="#0f6891" stroke-width="0.6"/>
<path d="M8.90,4.00 L9.30,41.00" stroke="#3ea3cf" stroke-width="1.2" opacity="0.55"/>
<ellipse cx="10.70" cy="2.40" rx="2.50" ry="1.0" fill="#52b3dc" opacity="0.75"/>
<path d="M14.00,4.80 Q14.00,3.20 17.20,3.20 Q20.40,3.20 20.40,4.80 L19.90,41.90 Q19.90,43.50 17.00,43.50 Q14.10,43.50 14.10,41.90 Z" fill="#1d89b8" stroke="#0f6891" stroke-width="0.6"/>
<path d="M15.70,6.20 L15.60,40.50" stroke="#3ea3cf" stroke-width="1.2" opacity="0.55"/>
<ellipse cx="17.20" cy="4.60" rx="2.20" ry="1.0" fill="#52b3dc" opacity="0.75"/>
<path d="M19.90,3.20 Q19.90,1.60 23.20,1.60 Q26.50,1.60 26.50,3.20 L25.60,41.60 Q25.60,43.20 22.60,43.20 Q19.60,43.20 19.60,41.60 Z" fill="#1d89b8" stroke="#0f6891" stroke-width="0.6"/>
<path d="M21.60,4.60 L21.10,40.20" stroke="#3ea3cf" stroke-width="1.2" opacity="0.55"/>
<ellipse cx="23.20" cy="3.00" rx="2.30" ry="1.0" fill="#52b3dc" opacity="0.75"/>
<path d="M25.20,4.20 Q25.20,2.60 28.60,2.60 Q32.00,2.60 32.00,4.20 L30.80,38.60 Q30.80,40.20 27.80,40.20 Q24.80,40.20 24.80,38.60 Z" fill="#1d89b8" stroke="#0f6891" stroke-width="0.6"/>
<path d="M26.90,5.60 L26.30,37.20" stroke="#3ea3cf" stroke-width="1.2" opacity="0.55"/>
<ellipse cx="28.60" cy="4.00" rx="2.40" ry="1.0" fill="#52b3dc" opacity="0.75"/>
<path d="M4,40.5 C3.5,47.5 11.5,48.5 11,43.5" fill="none" stroke="#17698c" stroke-width="1.2"/>
<path d="M17,43.2 C16.8,49.5 23.8,49.5 23.4,43" fill="none" stroke="#17698c" stroke-width="1.2"/>
<path d="M2.5,3 C2,-3.5 10,-4 10,1.5" fill="none" stroke="#17698c" stroke-width="1.2"/>
<path d="M15.5,3.5 C15,-3.2 23,-3.5 22.8,2.2" fill="none" stroke="#17698c" stroke-width="1.2"/>
</g>
<path d="M417.6,522.4 C421.5,521.5 425.5,525.5 429,527.3 C432.5,529 436.5,527.5 438.3,530.8 C440,534 435.5,537 432.9,540" fill="none" stroke="#17698c" stroke-width="1.6"/>
<path d="M432.4,579.5 C431.5,583 428.3,587 429.6,591 C431,595.3 437,594.8 441.5,593.2 C446.5,591.5 452,590.5 457.3,595.3" fill="none" stroke="#17698c" stroke-width="1.6"/>
<text x="427.00" y="610.00" font-size="7.2" fill="#333" text-anchor="middle" stroke="#333" stroke-width="0.2">no internalization</text>
<line x1="418.70" y1="627.00" x2="418.70" y2="660.40" stroke="#c23048" stroke-width="1.1" stroke-dasharray="1.2 1.0"/><path d="M418.70,663.60 L416.60,659.80 L418.70,660.80 L420.80,659.80 Z" fill="#c23048"/>
<line x1="423.80" y1="627.00" x2="423.80" y2="660.40" stroke="#c23048" stroke-width="1.1" stroke-dasharray="1.2 1.0"/><path d="M423.80,663.60 L421.70,659.80 L423.80,660.80 L425.90,659.80 Z" fill="#c23048"/>
<line x1="428.80" y1="627.00" x2="428.80" y2="660.40" stroke="#c23048" stroke-width="1.1" stroke-dasharray="1.2 1.0"/><path d="M428.80,663.60 L426.70,659.80 L428.80,660.80 L430.90,659.80 Z" fill="#c23048"/>
<rect x="402.3" y="675.1" width="45" height="21.4" rx="3.2" fill="none" stroke="#c8394f" stroke-width="1.1"/>
<text x="424.80" y="684.60" font-size="7.0" fill="#b42a45" text-anchor="middle" stroke="#b42a45" stroke-width="0.2">hyperactive</text>
<text x="424.80" y="692.90" font-size="7.0" fill="#b42a45" text-anchor="middle" stroke="#b42a45" stroke-width="0.2">signaling</text>
</g>

<rect x="1.5" y="1.5" width="517" height="753" fill="none" stroke="#4b4b4b" stroke-width="1" opacity="0.22"/>
<rect x="0.5" y="0.5" width="519" height="755" fill="none" stroke="#4b4b4b" stroke-width="1"/>
</svg>
</body></html>
